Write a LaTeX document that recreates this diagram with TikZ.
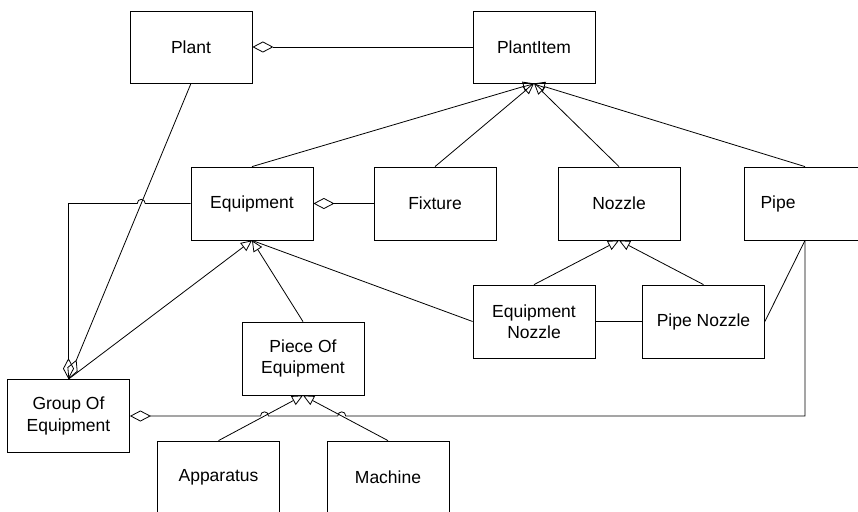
\documentclass[tikz,border=0pt]{standalone}
\usepackage{fontspec}
\setmainfont{Liberation Sans}
\usetikzlibrary{arrows.meta,intersections,calc}

\tikzset{
  cls/.style={draw, line width=0.8pt, minimum width=122pt, minimum height=73pt,
    inner sep=0pt, align=center, font=\fontsize{17.5}{21.5}\selectfont},
  conn/.style={line width=0.8pt},
  gen/.style={conn, -{Triangle[open,length=11pt,width=10pt]}},
  agg/.style={conn, {Diamond[open,length=21pt,width=11pt]}-},
}

\begin{document}
\begin{tikzpicture}[x=1pt,y=-1pt]
  \fill[white] (0,0) rectangle (858,511);
  \clip (0,0) rectangle (858,511);

  % classes
  \node[cls, minimum height=72pt] (plant)     at (191,47)    {Plant};
  \node[cls, minimum height=72pt] (plantitem) at (534,47)    {PlantItem};
  \node[cls] (equipment) at (252,203.5)  {Equipment};
  \node[cls] (fixture)   at (435,203.5)  {Fixture};
  \node[cls] (nozzle)    at (619,203.5)  {Nozzle};
  \node[cls, label={[xshift=-27pt, font=\fontsize{17.5}{21.5}\selectfont]center:Pipe}] (pipe) at (805,203.5) {};
  \node[cls] (eqnozzle)  at (534,321.5)  {Equipment\\Nozzle};
  \node[cls] (pipenozzle) at (703.5,321.5) {Pipe Nozzle};
  \node[cls] (piece)     at (303,358.5)  {Piece Of\\Equipment};
  \node[cls] (group)     at (68.5,416)   {Group Of\\Equipment};
  \node[cls] (apparatus) at (218.5,477.5) {Apparatus};
  \node[cls] (machine)   at (388,477.5)  {Machine};

  % crossing points where lines hop over others
  \path[name path=plantline] (plant.south) -- (group.north);
  \path[name path=eqleft] (equipment.west) -- (equipment.west -| group.north);
  \path[name intersections={of=plantline and eqleft, by=hopP}];
  \path[name path=grpline] (group.east) -- (group.east -| pipe.south);
  \path[name path=appline] (apparatus.north) -- (piece.south);
  \path[name path=macline] (machine.north) -- (piece.south);
  \path[name intersections={of=grpline and appline, by=hopA}];
  \path[name intersections={of=grpline and macline, by=hopM}];

  % generalisations
  \draw[gen] (equipment.north) -- (plantitem.south);
  \draw[gen] (fixture.north) -- (plantitem.south);
  \draw[gen] (nozzle.north) -- (plantitem.south);
  \draw[gen] (pipe.north) -- (plantitem.south);
  \draw[gen] (eqnozzle.north) -- (nozzle.south);
  \draw[gen] (pipenozzle.north) -- (nozzle.south);
  \draw[gen] (piece.north) -- (equipment.south);
  \draw[gen] (group.north) -- (equipment.south);
  \draw[gen] (apparatus.north) -- (piece.south);
  \draw[gen] (machine.north) -- (piece.south);

  % aggregations
  \draw[agg] (plant.east) -- (plantitem.west);
  \draw[agg] (equipment.east) -- (fixture.west);
  \draw[agg] (group.north) -- (plant.south);
  \draw[agg] (group.north) -- (group.north |- equipment.west)
    -- ([xshift=-4pt]hopP) .. controls +(0,-5.5) and +(0,-5.5) .. ([xshift=4pt]hopP)
    -- (equipment.west);
  \draw[agg] (group.east)
    -- ([xshift=-4pt]hopA) .. controls +(0,-5.5) and +(0,-5.5) .. ([xshift=4pt]hopA)
    -- ([xshift=-4pt]hopM) .. controls +(0,-5.5) and +(0,-5.5) .. ([xshift=4pt]hopM)
    -- (group.east -| pipe.south) -- (pipe.south);

  % associations
  \draw[conn] (equipment.south) -- (eqnozzle.west);
  \draw[conn] (eqnozzle.east) -- (pipenozzle.west);
  \draw[conn] (pipenozzle.east) -- (pipe.south);
\end{tikzpicture}
\end{document}
